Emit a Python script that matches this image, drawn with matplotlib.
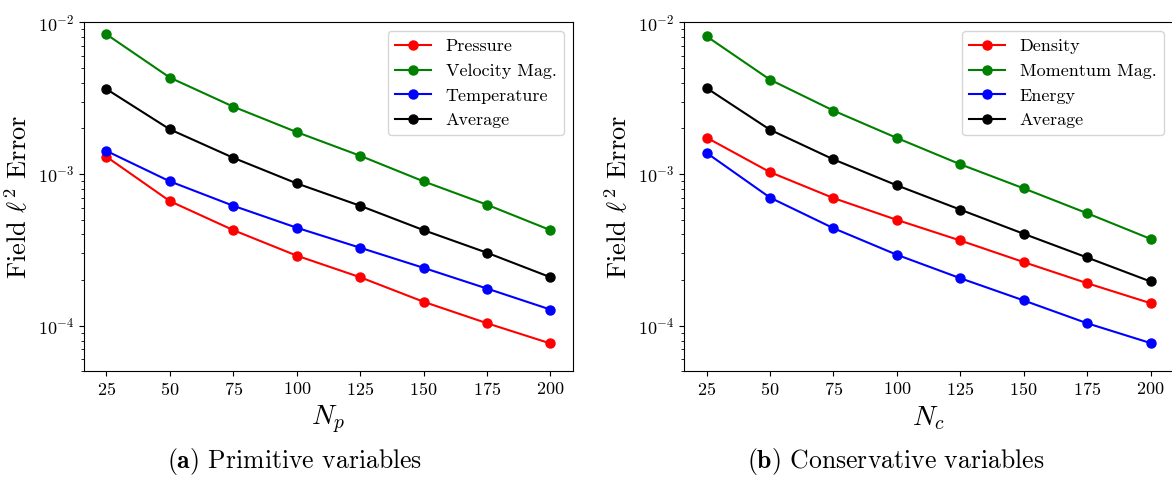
import numpy as np
import matplotlib
matplotlib.use("Agg")
from matplotlib import pyplot as plt

plt.rcParams["font.family"] = "serif"
plt.rcParams["font.serif"] = ["cmr10"]
plt.rcParams["mathtext.fontset"] = "cm"
plt.rcParams["axes.formatter.use_mathtext"] = True

n = [25, 50, 75, 100, 125, 150, 175, 200]

# primitive variables
pressure    = [1.30e-3, 6.63e-4, 4.27e-4, 2.90e-4, 2.09e-4, 1.44e-4, 1.04e-4, 7.65e-5]
velocity    = [8.33e-3, 4.32e-3, 2.78e-3, 1.89e-3, 1.32e-3, 8.95e-4, 6.28e-4, 4.27e-4]
temperature = [1.42e-3, 8.95e-4, 6.18e-4, 4.43e-4, 3.27e-4, 2.41e-4, 1.76e-4, 1.28e-4]
avg_prim    = [3.63e-3, 1.97e-3, 1.28e-3, 8.68e-4, 6.18e-4, 4.27e-4, 3.03e-4, 2.09e-4]

# conservative variables
density     = [1.74e-3, 1.03e-3, 6.95e-4, 4.99e-4, 3.65e-4, 2.63e-4, 1.91e-4, 1.41e-4]
momentum    = [8.09e-3, 4.19e-3, 2.62e-3, 1.73e-3, 1.16e-3, 8.05e-4, 5.52e-4, 3.74e-4]
energy      = [1.38e-3, 7.00e-4, 4.40e-4, 2.94e-4, 2.06e-4, 1.47e-4, 1.04e-4, 7.70e-5]
avg_cons    = [3.69e-3, 1.96e-3, 1.25e-3, 8.43e-4, 5.83e-4, 4.04e-4, 2.82e-4, 1.96e-4]

fig = plt.figure(figsize=(11.72, 4.86), dpi=100)
ax1 = fig.add_axes([0.0719, 0.2356, 0.4167, 0.7185])
ax2 = fig.add_axes([0.5839, 0.2356, 0.4167, 0.7185])

def panel(ax, series, names, xlabel):
    for vals, name, c in zip(series, names, ["red", "green", "blue", "black"]):
        ax.plot(n, vals, "o-", color=c, label=name, markersize=6.5)
    ax.set_yscale("log")
    ax.set_ylim(5e-5, 1e-2)
    ax.set_xticks(n)
    ax.tick_params(labelsize=13)
    ax.set_xlabel(xlabel, fontsize=20)
    ax.set_ylabel(r"Field $\ell^2$ Error", fontsize=19)
    ax.legend(loc="upper right", fontsize=13)

panel(ax1, [pressure, velocity, temperature, avg_prim],
      ["Pressure", "Velocity Mag.", "Temperature", "Average"], "$N_p$")
panel(ax2, [density, momentum, energy, avg_cons],
      ["Density", "Momentum Mag.", "Energy", "Average"], "$N_c$")

fig.text(0.2513, 0.037, r"$\mathbf{(a)}$ Primitive variables", ha="center", va="baseline", fontsize=18.5)
fig.text(0.764, 0.037, r"$\mathbf{(b)}$ Conservative variables", ha="center", va="baseline", fontsize=18.5)

fig.savefig("out.png", dpi=100)
